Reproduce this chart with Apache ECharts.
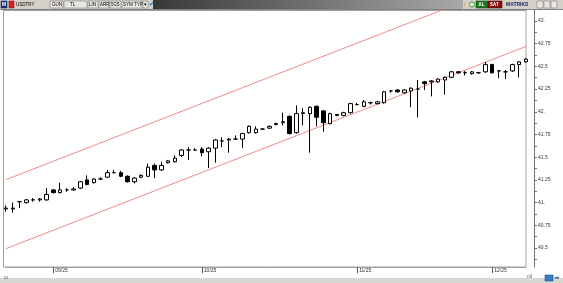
<!DOCTYPE html>
<html>
<head>
<meta charset="utf-8">
<script src="https://cdn.jsdelivr.net/npm/echarts@6/dist/echarts.min.js"></script>
<style>
html,body{margin:0;padding:0;background:#ffffff;}
#chart{width:563px;height:283px;}
</style>
</head>
<body>
<div id="chart"></div>
<script>
// ---- data ----
var dates = [
 "2025-08-21","2025-08-22","2025-08-25","2025-08-26","2025-08-27","2025-08-28","2025-08-29",
 "2025-09-01","2025-09-02","2025-09-03","2025-09-04","2025-09-05","2025-09-08","2025-09-09","2025-09-10","2025-09-11","2025-09-12",
 "2025-09-15","2025-09-16","2025-09-17","2025-09-18","2025-09-19","2025-09-22","2025-09-23","2025-09-24","2025-09-25","2025-09-26",
 "2025-09-29","2025-09-30",
 "2025-10-01","2025-10-02","2025-10-03","2025-10-06","2025-10-07","2025-10-08","2025-10-09","2025-10-10","2025-10-13","2025-10-14",
 "2025-10-15","2025-10-16","2025-10-17","2025-10-20","2025-10-21","2025-10-22","2025-10-23","2025-10-24","2025-10-27","2025-10-28",
 "2025-10-29","2025-10-30","2025-10-31",
 "2025-11-03","2025-11-04","2025-11-05","2025-11-06","2025-11-07","2025-11-10","2025-11-11","2025-11-12","2025-11-13","2025-11-14",
 "2025-11-17","2025-11-18","2025-11-19","2025-11-20","2025-11-21","2025-11-24","2025-11-25","2025-11-26","2025-11-27","2025-11-28",
 "2025-12-01","2025-12-02","2025-12-03","2025-12-04","2025-12-05","2025-12-08"
];
var opens = [
 40.93,40.93,41.01,41.00,41.03,41.03,41.03,
 41.14,41.11,41.14,41.14,41.16,41.25,41.22,41.26,41.28,41.33,
 41.33,41.29,41.23,41.28,41.29,41.41,41.36,41.44,41.45,41.52,
 41.58,41.58,
 41.59,41.56,41.60,41.68,41.69,41.70,41.70,41.77,41.77,41.81,
 41.82,41.86,41.88,41.95,41.77,41.98,41.98,42.06,42.01,41.87,
 41.97,41.96,41.99,
 42.08,42.06,42.10,42.09,42.10,42.23,42.24,42.21,42.23,42.25,
 42.33,42.33,42.33,42.35,42.38,42.44,42.43,42.42,42.43,42.44,
 42.52,42.45,42.44,42.45,42.52,42.55
];
var closes = [
 40.94,40.94,41.01,41.03,41.03,41.04,41.09,
 41.11,41.14,41.14,41.15,41.23,41.20,41.26,41.26,41.33,41.33,
 41.29,41.23,41.27,41.30,41.39,41.36,41.41,41.46,41.49,41.58,
 41.58,41.58,
 41.55,41.60,41.69,41.68,41.70,41.70,41.76,41.84,41.81,41.81,
 41.84,41.87,41.89,41.76,41.98,41.99,42.05,41.94,41.88,41.98,
 41.96,41.99,42.09,
 42.08,42.11,42.10,42.11,42.22,42.23,42.22,42.24,42.26,42.25,
 42.31,42.34,42.36,42.38,42.44,42.43,42.43,42.44,42.43,42.52,
 42.43,42.45,42.44,42.52,42.55,42.58
];
var lows = [
 40.90,40.89,40.94,40.99,41.01,41.01,41.02,
 41.10,41.10,41.12,41.13,41.15,41.19,41.21,41.25,41.27,41.32,
 41.28,41.22,41.21,41.27,41.28,41.27,41.35,41.43,41.44,41.50,
 41.47,41.57,
 41.51,41.38,41.44,41.61,41.55,41.69,41.60,41.76,41.76,41.80,
 41.81,41.85,41.85,41.75,41.76,41.85,41.55,41.84,41.78,41.86,
 41.95,41.95,41.98,
 42.07,42.05,42.08,42.08,42.09,42.21,42.21,42.20,42.05,41.94,
 42.24,42.17,42.32,42.19,42.37,42.42,42.40,42.41,42.42,42.43,
 42.42,42.37,42.36,42.44,42.38,42.54
];
var highs = [
 40.97,41.00,41.02,41.04,41.05,41.05,41.16,
 41.15,41.22,41.16,41.17,41.24,41.30,41.27,41.28,41.36,41.36,
 41.35,41.30,41.28,41.31,41.43,41.43,41.45,41.47,41.52,41.59,
 41.61,41.60,
 41.61,41.61,41.70,41.72,41.71,41.74,41.77,41.85,41.84,41.82,
 41.85,41.88,41.99,41.96,42.07,42.04,42.06,42.07,42.02,41.99,
 41.97,42.00,42.10,
 42.10,42.13,42.11,42.12,42.23,42.24,42.25,42.25,42.27,42.35,
 42.34,42.35,42.37,42.39,42.45,42.45,42.45,42.45,42.44,42.55,
 42.53,42.46,42.46,42.53,42.56,42.59
];
var monthLabels = {"2025-09-01":"09/25","2025-10-01":"10/25","2025-11-03":"11/25","2025-12-01":"12/25"};
var lowerChannel = [40.493, 42.720];   // values at first and last candle
var upperChannel = [41.253, 43.480];
var yLabelValues = [40.5,40.75,41,41.25,41.5,41.75,42,42.25,42.5,42.75,43];
var yTickValues = [40.375,40.5,40.625,40.75,40.875,41,41.125,41.25,41.375,41.5,41.625,41.75,41.875,42,42.125,42.25,42.375,42.5,42.625,42.75,42.875,43,43.125];

// ---- build ----
var candleData = dates.map(function(d,i){return [opens[i],closes[i],lows[i],highs[i]];});
var last = dates.length-1;

var chart = echarts.init(document.getElementById('chart'), null, {renderer:'canvas'});
var ff = 'Liberation Sans, Arial, sans-serif';
function t(x,y,s,color,size,weight){return {type:'text',x:x,y:y,z:50,style:{text:s,fill:color||'#000',font:(weight||'normal')+' '+(size||5)+'px '+ff,textVerticalAlign:'middle'}};}
function box(x,y,w,h,fill,stroke){return {type:'rect',z:49,shape:{x:x,y:y,width:w,height:h},style:{fill:fill||'#e8e6e0',stroke:stroke||'#808080',lineWidth:0.6}};}

var graphics = [
  // plot frame
  {type:'rect',z:-1,silent:true,shape:{x:3.5,y:10.5,width:522.5,height:256.5},style:{fill:'#fff',stroke:'#a0a0a0',lineWidth:1}},
  // top toolbar
  {type:'rect',z:45,shape:{x:0,y:0,width:563,height:9},style:{fill:'#d4d0c8'}},
  {type:'rect',z:46,shape:{x:153,y:0,width:310,height:9},style:{fill:new echarts.graphic.LinearGradient(0,0,1,0,[{offset:0,color:'#383838'},{offset:1,color:'#a8a8a8'}])}},
  {type:'line',z:46,shape:{x1:0,y1:9.5,x2:563,y2:9.5},style:{stroke:'#808080',lineWidth:1}},
  box(1,1,6,7,'#1c2f7a','#1c2f7a'), t(2,4.5,'M','#fff',5,'bold'),
  box(9,1,5,7,'#d02020','#902020'),
  t(16,4.6,'USDTRY','#000',4.5),
  box(50,1,13,7), t(52,4.6,'GUN','#000',4.5),
  box(64,1,23,7), t(70,4.6,'TL','#000',4.5),
  box(88,1,10,7), t(89,4.6,'LIN','#000',4.5),
  box(99,1,10,7), t(100,4.6,'ARR','#000',4.5),
  box(110,1,11,7), t(111,4.6,'5G5','#000',4.5),
  box(122,1,20,7), t(123,4.6,'SYM TYP','#000',4.5),
  box(143,1,5,7), t(144,4.6,'▾','#000',4.5),
  t(149,4.6,'✔','#2a7fd4',6,'bold'),
  t(464,4.6,'/','#e0a020',6,'bold'),
  {type:'circle',z:50,shape:{cx:472,cy:4.5,r:2.5},style:{fill:'#fff',stroke:'#2a9a2a',lineWidth:1}},
  box(476,1,12,7,'#1d7a1d','#0d4a0d'), t(478.5,4.6,'AL','#fff',4.5,'bold'),
  box(488,1,14,7,'#8a1010','#500808'), t(490,4.6,'SAT','#fff',4.5,'bold'),
  t(506,4.6,'MATRIKS','#1b2a6b',5,'bold'),
  box(537,1,6,7), box(544,1,6,7), box(551,1,6,7),
  // bottom bar
  {type:'rect',z:45,shape:{x:0,y:278,width:563,height:5},style:{fill:'#d8d6d0'}},
  t(4,277.5,'ш','#555',5),
  t(527,277,'ılıl','#555',5),
  box(545,275,8,6,'#3a78c8','#1f4f90'), t(554,278,'◂▸','#1f4f90',5)
];

var option = {
  backgroundColor:'#ffffff',
  animation:false,
  grid:{left:6,right:37,top:10,bottom:16},
  xAxis:{
    type:'category', data:dates, boundaryGap:false,
    axisLine:{show:true,lineStyle:{color:'#a0a0a0',width:1}},
    axisTick:{show:true,length:6,interval:function(i,v){return !!monthLabels[v];},lineStyle:{color:'#555'}},
    axisLabel:{interval:function(i,v){return !!monthLabels[v];},formatter:function(v){return monthLabels[v]||'';},
      align:'left',padding:[0,0,0,2],margin:1,fontSize:5,color:'#333',fontFamily:ff},
    splitLine:{show:false}
  },
  yAxis:{
    type:'value', position:'right', offset:8, scale:true,
    min:40.291, max:43.121,
    axisLine:{show:true,lineStyle:{color:'#707070',width:1}},
    axisTick:{show:true,length:3,customValues:yTickValues,lineStyle:{color:'#707070'}},
    axisLabel:{show:true,customValues:yLabelValues,margin:4,fontSize:5,color:'#333',fontFamily:ff,
      formatter:function(v){return (Math.abs(v-Math.round(v))<1e-9)?(Math.round(v)+'.'):String(v);}},
    splitLine:{show:false}
  },
  series:[
    {type:'line', silent:true, symbol:'none', clip:true, z:1,
     lineStyle:{color:'#f08a8a',width:1},
     data:[[dates[0],lowerChannel[0]],[dates[last],lowerChannel[1]]]},
    {type:'line', silent:true, symbol:'none', clip:true, z:1,
     lineStyle:{color:'#f08a8a',width:1},
     data:[[dates[0],upperChannel[0]],[dates[last],upperChannel[1]]]},
    {type:'candlestick', data:candleData, barWidth:4, clip:false, z:3,
     itemStyle:{color:'#ffffff',color0:'#000000',borderColor:'#000000',borderColor0:'#000000',borderWidth:1}}
  ],
  graphic:graphics
};
chart.setOption(option);
</script>
</body>
</html>
